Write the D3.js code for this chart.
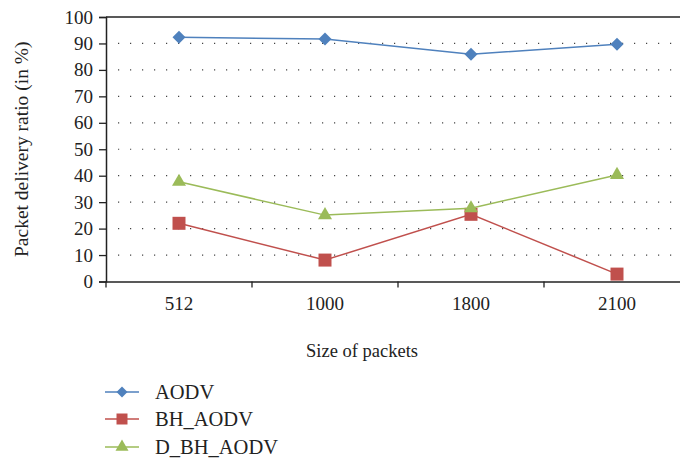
<!DOCTYPE html>
<html lang="en">
<head>
<meta charset="UTF-8">
<script src="https://d3js.org/d3.v7.min.js"></script>
<style>
  body { margin: 0; background: #fff; }
  svg text { font-family: "Liberation Serif", "Times New Roman", serif; }
</style>
</head>
<body>
<script>
const categories = ["512", "1000", "1800", "2100"];
const aodv = [92.3, 91.7, 85.9, 89.7];
const bhAodv = [22.0, 8.1, 25.4, 2.8];
const dBhAodv = [37.7, 25.1, 27.7, 40.3];
const yTicks = [0, 10, 20, 30, 40, 50, 60, 70, 80, 90, 100];

const series = [
  { name: "AODV", values: aodv, color: "#4F81BD", shape: "diamond" },
  { name: "BH_AODV", values: bhAodv, color: "#C0504D", shape: "square" },
  { name: "D_BH_AODV", values: dBhAodv, color: "#9BBB59", shape: "triangle" }
];

const width = 680, height = 461;
const plotLeft = 106, plotRight = 690, plotTop = 17, plotBottom = 281.5;
const serif = "'Liberation Serif', 'Times New Roman', serif";

const svg = d3.select("body").append("svg")
  .attr("width", width)
  .attr("height", height);

const x = d3.scaleBand().domain(categories).range([plotLeft, plotRight]);
const y = d3.scaleLinear().domain([0, 100]).range([plotBottom, plotTop]);

function marker(shape, s) {
  // s = approximate width in px
  if (shape === "diamond") return d3.symbol().type(d3.symbolSquare).size(s * s / 2)();
  if (shape === "square") return d3.symbol().type(d3.symbolSquare).size(s * s)();
  return d3.symbol().type(d3.symbolTriangle).size(s * s * 0.433)();
}
const rot = shape => shape === "diamond" ? " rotate(45)" : "";

// dotted gridlines
svg.append("g")
  .selectAll("line")
  .data(yTicks.filter(t => t > 0 && t < 100))
  .join("line")
  .attr("x1", plotLeft + 12)
  .attr("x2", plotRight)
  .attr("y1", d => y(d))
  .attr("y2", d => y(d))
  .attr("stroke", "#444")
  .attr("stroke-width", 1.2)
  .attr("stroke-dasharray", "1.2,10.8");

// top border
svg.append("line")
  .attr("x1", plotLeft).attr("x2", plotRight)
  .attr("y1", plotTop).attr("y2", plotTop)
  .attr("stroke", "#222").attr("stroke-width", 1.5);

// y axis
const yAxis = svg.append("g")
  .attr("transform", `translate(${plotLeft},0)`)
  .call(d3.axisLeft(y).tickValues(yTicks).tickSize(7).tickPadding(6));
yAxis.attr("font-family", serif);
yAxis.select(".domain").attr("stroke", "#222").attr("stroke-width", 1.5);
yAxis.selectAll(".tick line").attr("stroke", "#222").attr("stroke-width", 1.3);
yAxis.selectAll("text").attr("font-size", 19).attr("fill", "#222");

// x axis with ticks between categories
const xAxis = svg.append("g")
  .attr("transform", `translate(0,${plotBottom})`)
  .call(d3.axisBottom(x).tickSize(0).tickPadding(15));
xAxis.attr("font-family", serif);
xAxis.select(".domain").attr("stroke", "#222").attr("stroke-width", 1.5);
xAxis.selectAll("text").attr("font-size", 19).attr("fill", "#222");
xAxis.selectAll(".sep")
  .data(categories)
  .join("line")
  .attr("class", "sep")
  .attr("x1", d => x(d)).attr("x2", d => x(d))
  .attr("y1", 0).attr("y2", 6)
  .attr("stroke", "#222").attr("stroke-width", 1.3);

// axis titles
svg.append("text")
  .attr("transform", `translate(28,${(plotTop + plotBottom) / 2}) rotate(-90)`)
  .attr("text-anchor", "middle")
  .attr("font-size", 19.5)
  .attr("fill", "#222")
  .text("Packet delivery ratio (in %)");

svg.append("text")
  .attr("x", 362)
  .attr("y", 357)
  .attr("text-anchor", "middle")
  .attr("font-size", 18.5)
  .attr("fill", "#222")
  .text("Size of packets");

// lines and markers
const cx = c => x(c) + x.bandwidth() / 2;
const line = d3.line()
  .x((d, i) => cx(categories[i]))
  .y(d => y(d));

series.forEach(s => {
  svg.append("path")
    .datum(s.values)
    .attr("d", line)
    .attr("fill", "none")
    .attr("stroke", s.color)
    .attr("stroke-width", 1.5);

  svg.append("g")
    .selectAll("path")
    .data(s.values)
    .join("path")
    .attr("transform", (d, i) => `translate(${cx(categories[i])},${y(d)})${rot(s.shape)}`)
    .attr("d", marker(s.shape, s.shape === "triangle" ? 14 : 13))
    .attr("fill", s.color);
});

// legend
const legend = svg.append("g");
const rowY = [392, 419, 447];
series.forEach((s, i) => {
  const g = legend.append("g").attr("transform", `translate(0,${rowY[i]})`);
  g.append("line")
    .attr("x1", 105).attr("x2", 139)
    .attr("y1", 0).attr("y2", 0)
    .attr("stroke", s.color).attr("stroke-width", 1.5);
  g.append("path")
    .attr("transform", `translate(122,0)${rot(s.shape)}`)
    .attr("d", marker(s.shape, s.shape === "triangle" ? 13 : 11))
    .attr("fill", s.color);
  g.append("text")
    .attr("x", 155)
    .attr("y", 7)
    .attr("font-size", 20.5)
    .attr("fill", "#222")
    .text(s.name);
});
</script>
</body>
</html>
